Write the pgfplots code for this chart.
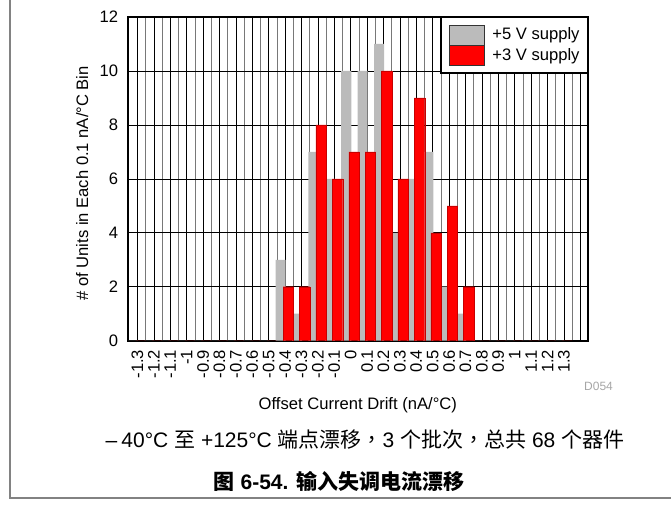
\documentclass[border=0pt]{standalone}
\usepackage{fontspec}
\setmainfont{Liberation Sans}
\newfontfamily\cjk{Noto Sans CJK SC}
\newfontfamily\cjktc{Noto Sans CJK TC}
\usepackage{pgfplots}
\usepackage{pgfplotstable}
\pgfplotsset{compat=1.18}
\definecolor{barg}{RGB}{187,187,187}
\definecolor{barr}{RGB}{255,0,0}
\definecolor{edger}{RGB}{200,0,0}
\definecolor{gridg}{RGB}{120,120,120}
\definecolor{frameg}{RGB}{130,130,130}

% x = bin index (0 -> -1.3 nA/C, 26 -> +1.3 nA/C); g = +5 V supply; r = +3 V supply
\pgfplotstableread{
x g r
0 0 0
1 0 0
2 0 0
3 0 0
4 0 0
5 0 0
6 0 0
7 0 0
8 0 0
9 3 2
10 1 2
11 7 8
12 6 6
13 10 7
14 10 7
15 11 10
16 4 6
17 6 9
18 7 4
19 2 5
20 1 2
21 0 0
22 0 0
23 0 0
24 0 0
25 0 0
26 0 0
}\drift

\begin{document}
\fontsize{16.6bp}{20bp}\selectfont
\begin{tikzpicture}
\useasboundingbox (0,0) rectangle (671bp,508bp);
\draw[frameg, line width=1.5bp] (10bp,508bp) -- (10bp,10bp) -- (671bp,10bp);
\begin{axis}[
  at={(128.3bp,167.3bp)}, anchor=south west,
  scale only axis, width=460bp, height=323.7bp,
  xmin=-0.56, xmax=27.49, ymin=0, ymax=12,
  xtick={0,...,27},
  xticklabels={-1.3,-1.2,-1.1,-1,-0.9,-0.8,-0.7,-0.6,-0.5,-0.4,-0.3,-0.2,-0.1,0,0.1,0.2,0.3,0.4,0.5,0.6,0.7,0.8,0.9,1,1.1,1.2,1.3,{}},
  minor xtick={0.5,1.5,...,26.5},
  ytick={0,2,...,12},
  xmajorgrids, xminorgrids, ymajorgrids,
  major grid style={black, line width=0.6bp},
  minor grid style={gridg, line width=0.6bp},
  major tick length=0pt, minor tick length=0pt,
  tick style={draw=none},
  axis line style={line width=2bp},
  /pgf/number format/assume math mode=true,
  xticklabel style={inner sep=0pt, yshift=-9bp, rotate=90, anchor=east},
  yticklabel style={inner sep=0pt, xshift=-10bp, anchor=east},
  xlabel={Offset Current Drift (nA/°C)},
  ylabel={\# of Units in Each 0.1 nA/°C Bin},
  every axis x label/.style={at={(axis description cs:0.499,-0.199)}, anchor=center},
  every axis y label/.style={at={(axis description cs:-0.1,0.486)}, rotate=90, anchor=center},
  legend cell align=left,
  legend style={at={(rel axis cs:1,1)}, anchor=north east, draw=black,
    line width=1.5bp, fill=white, inner xsep=8bp, inner ysep=7bp,
    nodes={inner sep=0pt}, row sep=0pt,
    /tikz/every odd column/.style={column sep=8bp}},
]
\addplot[ybar, bar width=0.61, bar shift=-0.27, fill=barg, draw=none,
  legend image code/.code={\draw[fill=barg, draw=black!80, line width=0.6bp] (0bp,-10bp) rectangle (35bp,10bp);}]
  table[x=x, y=g] {\drift};
\addplot[ybar, bar width=0.63, bar shift=0.2, fill=barr, draw=edger, line width=0.3bp,
  legend image code/.code={\draw[fill=barr, draw=black!80, line width=0.6bp] (0bp,-10bp) rectangle (35bp,10bp);}]
  table[x=x, y=r] {\drift};
\legend{+5 V supply, +3 V supply}
\end{axis}
\node[font=\fontsize{12bp}{14bp}\selectfont, text=gray!70, anchor=center] at (598.5bp,121.3bp) {D054};
\node[font=\fontsize{21bp}{24bp}\selectfont, anchor=center] at (365bp,68bp)
  {–\hspace{4bp}40°C {\cjk 至} +125°C {\cjk 端点漂移}{\cjktc ，}3 {\cjk 个批次}{\cjktc ，}{\cjk 总共} 68 {\cjk 个器件}};
\node[font=\fontsize{21bp}{24bp}\selectfont\bfseries, anchor=center] at (339bp,27bp)
  {{\cjk 图} 6-54. {\cjk 输入失调电流漂移}};
\end{tikzpicture}
\end{document}
